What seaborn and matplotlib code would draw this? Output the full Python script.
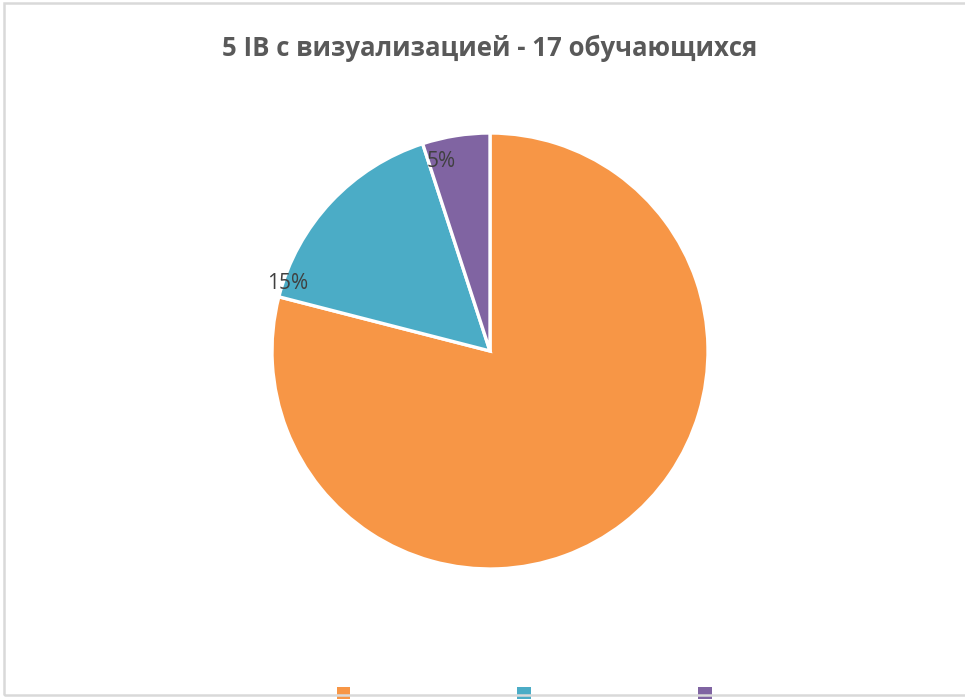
"""
Pie chart: 5 IB с визуализацией - 17 обучающихся
"""
import numpy as np
import matplotlib
matplotlib.use("Agg")
import matplotlib.pyplot as plt
import seaborn as sns
from matplotlib.patches import Patch, Rectangle

sns.set_style("white")
plt.rcParams['font.family'] = ['Open Sans', 'DejaVu Sans']

# Data (slice sizes, labels as printed)
categories = ['Категория 1', 'Категория 2', 'Категория 3']
shares = [79, 16, 5]
shown_labels = ['', '15%', '5%']
colors = ['#F79646', '#4BACC6', '#8064A2']

W, H = 965, 700
fig = plt.figure(figsize=(W / 100, H / 100), dpi=100)

# pie axes: centre (490, 351), radius 218 px
cx, cy, r = 490, 351, 218
ax = fig.add_axes([(cx - r) / W, (H - cy - r) / H, 2 * r / W, 2 * r / H])
wedges, _ = ax.pie(shares, colors=colors, startangle=90, counterclock=False,
                   radius=1, wedgeprops=dict(edgecolor='white', linewidth=2.4))
ax.set_xlim(-1, 1)
ax.set_ylim(-1, 1)
ax.set_aspect('equal')
ax.axis('off')

# data labels (Excel "best fit" style placement)
label_pos = {1: (161.5, 0.98), 2: (104.5, 0.90)}
for i, (ang, dist) in label_pos.items():
    t = np.deg2rad(ang)
    ax.text(dist * np.cos(t), dist * np.sin(t), shown_labels[i],
            ha='center', va='center', fontsize=15, color='#404040')

# title
fig.text(490 / W, 1 - 48 / H, '5 IB с визуализацией - 17 обучающихся',
         ha='center', va='center', fontsize=18.5, fontweight='bold',
         color='#595959')

# legend (text cropped off in the original)
handles = [Patch(facecolor=c, edgecolor='none') for c in colors]
fig.legend(handles, ['', '', ''], ncol=3, loc='center',
           bbox_to_anchor=(524 / W, 1 - 694 / H), frameon=False,
           handlelength=1.0, handleheight=1.0, handletextpad=0,
           columnspacing=12.0, fontsize=10)

# chart frame
frame = Rectangle((4 / W, 5 / H), 1.0, 1 - 7.5 / H, transform=fig.transFigure,
                  fill=False, edgecolor='#D9D9D9', linewidth=1.8, zorder=10)
fig.patches.append(frame)

fig.savefig('out.png', dpi=100)
